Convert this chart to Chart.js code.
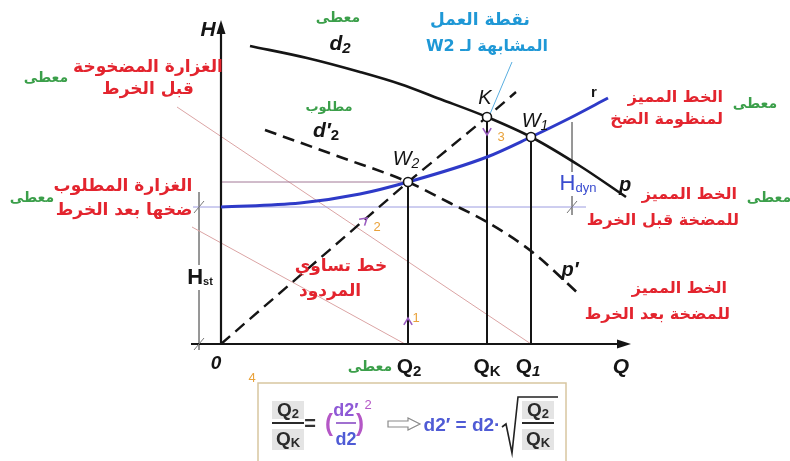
<!DOCTYPE html>
<html lang="ar">
<head>
<meta charset="utf-8">
<title>Impeller trimming – H/Q diagram</title>
<script src="https://cdn.jsdelivr.net/npm/chart.js@4.4.1/dist/chart.umd.min.js"></script>
<style>
  html, body { margin: 0; background: #fff; }
  canvas { display: block; }
</style>
</head>
<body>
<canvas id="chart" width="790" height="461"></canvas>
<script>
// Flow Q on x, head H on y, in chart units (0,0 = axis corner)
const Q2 = 18.7, QK = 26.6, Q1 = 31.0;
const H_W2 = 16.2, H_K = 22.7, H_W1 = 20.7, H_ST = 13.7;

// pump curve, full impeller d2 (p)
const pumpFull = [[2.9, 29.8], [8.6, 28.6], [13.9, 27.2], [17.9, 26.0], [21.9, 24.5], [26.6, 22.7], [31.0, 20.7], [35.9, 17.8], [40.5, 14.7]];
// pump curve after trimming to d'2 (p')
const pumpTrimmed = [[4.4, 21.4], [11.9, 18.7], [18.7, 16.2], [22.9, 14.1], [26.6, 12.2], [31.0, 9.3], [35.9, 4.9]];
// system curve r
const systemCurve = [[0, 13.7], [7.9, 14.1], [13.9, 15.0], [18.7, 16.2], [26.6, 18.7], [31.0, 20.7], [34.9, 22.6], [38.7, 24.6]];
// equal-efficiency line through the origin, W2 and K
const equalEff = [[0, 0], [18.7, 16.2], [26.6, 22.7], [29.5, 25.2]];
// working points W2, K, W1
const workPoints = [[Q2, H_W2], [QK, H_K], [Q1, H_W1]];

// guide lines
const guideW2 = [[0, H_W2], [Q2, H_W2]];
const guideHst = [[-2.8, H_ST], [36.5, H_ST]];
const flowBefore = [[-4.4, 23.7], [Q1, 0]];
const flowAfter = [[-2.9, 11.7], [18.4, 0]];
const hstDimTop = [[-2.2, 15.2], [-2.2, 7.9]];
const hstDimBottom = [[-2.2, 5.4], [-2.2, -0.6]];
const hdynDimTop = [[35.1, 22.2], [35.1, 17.2]];
const hdynDimBottom = [[35.1, 14.8], [35.1, 12.9]];
const leader = [[29.1, 28.2], [26.9, 23.0]];

const X_MIN = -22.1, X_MAX = 56.9, Y_MIN = -11.7, Y_MAX = 34.4;

const RED = '#e3242e', GREEN = '#3b9f4a', CYAN = '#1f98d6', BLUE = '#3a4ccf';
const ORANGE = '#e9a23b', PURPLE = '#9a5cc0', INK = '#151515';
const AR = '"DejaVu Sans", sans-serif';
const LAT = '"Liberation Sans", Arial, sans-serif';

// Arabic captions: text, q, h, colour, size, anchor ('center' or 'right' edge)
const arabicLabels = [
  ['الغزارة المضخوخة', -7.3, 27.6, RED, 17, 'center'],
  ['قبل الخرط', -7.3, 25.4, RED, 17, 'center'],
  ['معطى', -17.5, 26.6, GREEN, 14, 'center'],
  ['الغزارة المطلوب', -9.8, 15.7, RED, 17, 'center'],
  ['ضخها بعد الخرط', -9.7, 13.3, RED, 17, 'center'],
  ['معطى', -18.9, 14.6, GREEN, 14, 'center'],
  ['معطى', 11.7, 32.6, GREEN, 14, 'center'],
  ['مطلوب', 10.8, 23.6, GREEN, 13, 'center'],
  ['نقطة العمل', 25.9, 32.3, CYAN, 17, 'center'],
  ['المشابهة لـ W2', 26.6, 29.7, CYAN, 16, 'center'],
  ['خط تساوي', 12.0, 7.7, RED, 17, 'center'],
  ['المردود', 10.9, 5.2, RED, 17, 'center'],
  ['الخط المميز', 50.2, 24.6, RED, 16, 'right'],
  ['لمنظومة الضخ', 50.2, 22.4, RED, 16, 'right'],
  ['معطى', 53.4, 24.0, GREEN, 14, 'center'],
  ['الخط المميز', 51.6, 14.9, RED, 16, 'right'],
  ['للمضخة قبل الخرط', 51.8, 12.3, RED, 16, 'right'],
  ['معطى', 54.8, 14.6, GREEN, 14, 'center'],
  ['الخط المميز', 50.6, 5.5, RED, 16, 'right'],
  ['للمضخة بعد الخرط', 50.9, 2.9, RED, 16, 'right'],
  ['معطى', 14.9, -2.3, GREEN, 14, 'center']
];

// Latin symbols with subscripts: q, h, parts [text, font, colour, dy]
const symbolLabels = [
  [-1.3, 31.4, [['H', 'italic bold 21px', INK]]],
  [40.0, -2.3, [['Q', 'italic bold 21px', INK]]],
  [-0.5, -2.0, [['0', 'italic bold 19px', INK]]],
  [18.8, -2.3, [['Q', 'bold 21px', INK], ['2', 'bold 15px', INK, 5]]],
  [26.6, -2.3, [['Q', 'bold 21px', INK], ['K', 'bold 15px', INK, 5]]],
  [30.7, -2.3, [['Q', 'bold 21px', INK], ['1', 'italic bold 15px', INK, 5]]],
  [18.5, 18.5, [['W', 'italic 20px', INK], ['2', 'italic 14px', INK, 5]]],
  [26.4, 24.6, [['K', 'italic 20px', INK]]],
  [31.4, 22.3, [['W', 'italic 20px', INK], ['1', 'italic 14px', INK, 5]]],
  [37.3, 25.1, [['r', 'bold 15px', INK]]],
  [40.4, 15.9, [['p', 'italic bold 20px', INK]]],
  [34.9, 7.4, [['p′', 'italic bold 20px', INK]]],
  [11.9, 30.0, [['d', 'italic bold 21px', INK], ['2', 'italic bold 15px', INK, 5]]],
  [10.5, 21.3, [['d′', 'italic bold 21px', INK], ['2', 'bold 15px', INK, 5]]],
  [35.7, 16.0, [['H', '22px', BLUE], ['dyn', '13px', BLUE, 4]]],
  [-2.1, 6.6, [['H', 'bold 22px', INK], ['st', 'bold 11px', INK, 4]]],
  [19.5, 2.6, [['1', '13px', ORANGE]]],
  [15.6, 11.7, [['2', '13px', ORANGE]]],
  [28.0, 20.7, [['3', '13px', ORANGE]]],
  [3.1, -3.4, [['4', '13px', ORANGE]]]
];

// direction chevrons on the construction lines: q, h, direction (dq, dh)
const chevrons = [[Q2, 2.6, 0, 1], [14.6, 12.6, 1, 0.866], [QK, 20.9, 0, -1]];
// dimension end ticks
const dimTicks = [[-2.2, H_ST], [-2.2, 0], [35.1, H_ST]];

const pts = arr => arr.map(([x, y]) => ({ x, y }));
function line(data, color, width, dash, smooth) {
  return {
    data: pts(data), showLine: true, borderColor: color, borderWidth: width,
    borderDash: dash || [], borderCapStyle: 'butt', pointRadius: 0, pointHoverRadius: 0,
    fill: false, tension: smooth ? 0.4 : 0, cubicInterpolationMode: smooth ? 'monotone' : 'default'
  };
}

function drawRich(ctx, x, y, parts) {
  ctx.textAlign = 'left';
  let total = 0;
  parts.forEach(p => { ctx.font = p[1] + ' ' + LAT; total += ctx.measureText(p[0]).width; });
  let cx = x - total / 2;
  parts.forEach(p => {
    ctx.font = p[1] + ' ' + LAT;
    ctx.fillStyle = p[2];
    ctx.fillText(p[0], cx, y + (p[3] || 0));
    cx += ctx.measureText(p[0]).width;
  });
}

function drawFormula(ctx, bx, by) {
  ctx.save();
  ctx.strokeStyle = '#d8c6a0';
  ctx.lineWidth = 1.5;
  ctx.strokeRect(bx, by, 308, 90);
  ctx.textBaseline = 'alphabetic';
  const frac = (cx, top, bottom, col, w, shade) => {
    if (shade) {
      ctx.fillStyle = '#e4e4e4';
      ctx.fillRect(cx - w / 2, by + 18, w, 18);
      ctx.fillRect(cx - w / 2, by + 46, w, 21);
    }
    drawRich(ctx, cx, by + 33, top);
    drawRich(ctx, cx, by + 62, bottom);
    ctx.strokeStyle = col;
    ctx.lineWidth = 2;
    ctx.beginPath();
    ctx.moveTo(cx - w / 2, by + 40);
    ctx.lineTo(cx + w / 2, by + 40);
    ctx.stroke();
  };
  const qTop = [['Q', 'bold 19px', '#2a2a2a'], ['2', 'bold 13px', '#2a2a2a', 2]];
  const qBot = [['Q', 'bold 19px', '#2a2a2a'], ['K', 'bold 13px', '#2a2a2a', 2]];
  frac(bx + 30, qTop, qBot, '#2a2a2a', 32, true);
  drawRich(ctx, bx + 52, by + 47, [['=', 'bold 20px', '#333']]);
  drawRich(ctx, bx + 71, by + 48, [['(', 'bold 24px', '#b457c6']]);
  frac(bx + 88, [['d2′', 'bold 18px', '#8e5ad6']], [['d2', 'bold 18px', '#4f5bd5']], '#a070d0', 20, false);
  drawRich(ctx, bx + 102, by + 48, [[')', 'bold 24px', '#b457c6']]);
  drawRich(ctx, bx + 110, by + 26, [['2', '13px', '#b457c6']]);
  // outlined implication arrow
  ctx.strokeStyle = '#8a8a8a';
  ctx.lineWidth = 1.2;
  ctx.beginPath();
  const ax = bx + 130, ay = by + 41;
  ctx.moveTo(ax, ay - 3); ctx.lineTo(ax + 20, ay - 3); ctx.lineTo(ax + 20, ay - 6);
  ctx.lineTo(ax + 32, ay); ctx.lineTo(ax + 20, ay + 6); ctx.lineTo(ax + 20, ay + 3);
  ctx.lineTo(ax, ay + 3); ctx.closePath();
  ctx.stroke();
  drawRich(ctx, bx + 204, by + 48, [['d2′ = d2·', 'bold 19px', '#4f5bd5']]);
  // square root
  ctx.strokeStyle = '#222';
  ctx.lineWidth = 1.6;
  ctx.beginPath();
  ctx.moveTo(bx + 244, by + 44); ctx.lineTo(bx + 248, by + 41); ctx.lineTo(bx + 254, by + 70);
  ctx.lineTo(bx + 260, by + 14); ctx.lineTo(bx + 300, by + 14);
  ctx.stroke();
  frac(bx + 280, qTop, qBot, '#2a2a2a', 32, true);
  ctx.restore();
}

const overlay = {
  id: 'overlay',
  afterDatasetsDraw(chart) {
    const { ctx, scales: { x, y } } = chart;
    const px = q => x.getPixelForValue(q), py = h => y.getPixelForValue(h);
    ctx.save();

    // axis arrowheads
    ctx.fillStyle = INK;
    let tx = px(0), ty = py(32.4);
    ctx.beginPath(); ctx.moveTo(tx, ty); ctx.lineTo(tx - 4.5, ty + 14); ctx.lineTo(tx + 4.5, ty + 14); ctx.fill();
    tx = px(41.0); ty = py(0);
    ctx.beginPath(); ctx.moveTo(tx, ty); ctx.lineTo(tx - 14, ty - 4.5); ctx.lineTo(tx - 14, ty + 4.5); ctx.fill();

    // dimension ticks
    ctx.strokeStyle = '#777';
    ctx.lineWidth = 1;
    dimTicks.forEach(([q, h]) => {
      const cx = px(q), cy = py(h);
      ctx.beginPath(); ctx.moveTo(cx - 5, cy + 6); ctx.lineTo(cx + 5, cy - 6); ctx.stroke();
    });

    // chevrons
    ctx.strokeStyle = PURPLE;
    ctx.lineWidth = 1.6;
    chevrons.forEach(([q, h, dq, dh]) => {
      const cx = px(q), cy = py(h);
      const vx = px(q + dq) - px(q), vy = py(h + dh) - py(h);
      const a = Math.atan2(vy, vx);
      ctx.beginPath();
      ctx.moveTo(cx + 8 * Math.cos(a + Math.PI - 0.55), cy + 8 * Math.sin(a + Math.PI - 0.55));
      ctx.lineTo(cx, cy);
      ctx.lineTo(cx + 8 * Math.cos(a + Math.PI + 0.55), cy + 8 * Math.sin(a + Math.PI + 0.55));
      ctx.stroke();
    });

    // symbols
    ctx.textBaseline = 'middle';
    symbolLabels.forEach(([q, h, parts]) => drawRich(ctx, px(q), py(h), parts));

    // Arabic captions
    ctx.direction = 'rtl';
    arabicLabels.forEach(([text, q, h, color, size, anchor]) => {
      ctx.font = 'bold ' + size + 'px ' + AR;
      ctx.fillStyle = color;
      ctx.textAlign = anchor;
      ctx.fillText(text, px(q), py(h));
    });
    ctx.direction = 'ltr';

    drawFormula(ctx, px(3.7), py(-3.9));
    ctx.restore();
  }
};

new Chart(document.getElementById('chart'), {
  type: 'scatter',
  data: {
    datasets: [
      { data: pts(workPoints), showLine: false, pointRadius: 4.5, pointHoverRadius: 4.5,
        pointBackgroundColor: '#fff', pointBorderColor: INK, pointBorderWidth: 1.6 },
      line(pumpFull, INK, 2.6, null, true),
      line(pumpTrimmed, INK, 2.6, [12, 7], true),
      line(equalEff, INK, 2.4, [12, 7]),
      line(systemCurve, '#2e3ac8', 3, null, true),
      line([[Q2, 0], [Q2, H_W2]], INK, 2),
      line([[QK, 0], [QK, H_K]], INK, 2),
      line([[Q1, 0], [Q1, H_W1]], INK, 2),
      line([[-3.0, 0], [40.5, 0]], INK, 2.2),
      line([[0, 0], [0, 31.5]], INK, 2.2),
      line(leader, '#59aee0', 1),
      line(guideW2, '#a27896', 1),
      line(guideHst, '#9c9ce0', 1),
      line(flowBefore, '#dba4a4', 1),
      line(flowAfter, '#dba4a4', 1),
      line(hstDimTop, '#888', 1),
      line(hstDimBottom, '#888', 1),
      line(hdynDimTop, '#888', 1),
      line(hdynDimBottom, '#888', 1)
    ]
  },
  options: {
    responsive: false,
    animation: false,
    events: [],
    layout: { padding: 0, autoPadding: false },
    plugins: { legend: { display: false }, tooltip: { enabled: false } },
    scales: {
      x: { type: 'linear', min: X_MIN, max: X_MAX, display: false },
      y: { type: 'linear', min: Y_MIN, max: Y_MAX, display: false }
    }
  },
  plugins: [overlay]
});
</script>
</body>
</html>
